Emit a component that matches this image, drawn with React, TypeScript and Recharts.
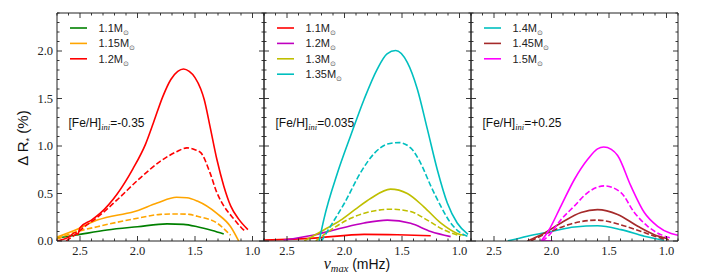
import React from 'react';
import { LineChart, Line, XAxis, YAxis } from 'recharts';

type Pt = { x: number; y: number };

// ---------- ticks ----------
const xMajorTicks = [1.0, 1.5, 2.0, 2.5];
const xAllTicks = [0.9, 1.0, 1.1, 1.2, 1.3, 1.4, 1.5, 1.6, 1.7, 1.8, 1.9, 2.0, 2.1, 2.2, 2.3, 2.4, 2.5, 2.6, 2.7];
const yMajorTicks = [0.0, 0.5, 1.0, 1.5, 2.0];
const yAllTicks = [0.0, 0.1, 0.2, 0.3, 0.4, 0.5, 0.6, 0.7, 0.8, 0.9, 1.0, 1.1, 1.2, 1.3, 1.4, 1.5, 1.6, 1.7, 1.8, 1.9, 2.0, 2.1, 2.2, 2.3, 2.4];
const xDomain = [0.9, 2.7];
const yDomain = [0, 2.4];

// ---------- panel 1 : [Fe/H]ini = -0.35 ----------
const p1_m110: Pt[] = [
  { x: 2.7, y: 0.03 }, { x: 2.53, y: 0.063 }, { x: 2.265, y: 0.116 }, { x: 2.0, y: 0.15 },
  { x: 1.743, y: 0.18 }, { x: 1.6, y: 0.175 }, { x: 1.48, y: 0.15 }, { x: 1.35, y: 0.11 }, { x: 1.25, y: 0.074 },
];
const p1_m115: Pt[] = [
  { x: 2.7, y: 0.04 }, { x: 2.55, y: 0.11 }, { x: 2.35, y: 0.22 }, { x: 2.1, y: 0.29 }, { x: 2.04, y: 0.305 },
  { x: 1.83, y: 0.4 }, { x: 1.66, y: 0.46 }, { x: 1.57, y: 0.455 }, { x: 1.48, y: 0.42 }, { x: 1.31, y: 0.29 },
  { x: 1.19, y: 0.15 }, { x: 1.12, y: 0.0 },
];
const p1_m115d: Pt[] = [
  { x: 2.7, y: 0.02 }, { x: 2.55, y: 0.09 }, { x: 2.35, y: 0.15 }, { x: 2.0, y: 0.24 }, { x: 1.8, y: 0.28 },
  { x: 1.657, y: 0.285 }, { x: 1.55, y: 0.28 }, { x: 1.48, y: 0.26 }, { x: 1.31, y: 0.19 }, { x: 1.207, y: 0.08 }, { x: 1.19, y: 0.06 },
];
const p1_m120: Pt[] = [
  { x: 2.7, y: 0.0 }, { x: 2.6, y: 0.04 }, { x: 2.54, y: 0.09 }, { x: 2.52, y: 0.07 }, { x: 2.5, y: 0.14 },
  { x: 2.4, y: 0.22 }, { x: 2.326, y: 0.29 }, { x: 2.18, y: 0.49 }, { x: 2.04, y: 0.76 }, { x: 1.93, y: 1.02 },
  { x: 1.86, y: 1.25 }, { x: 1.78, y: 1.52 }, { x: 1.71, y: 1.7 }, { x: 1.65, y: 1.785 }, { x: 1.6, y: 1.81 },
  { x: 1.55, y: 1.785 }, { x: 1.5, y: 1.72 }, { x: 1.45, y: 1.6 }, { x: 1.42, y: 1.49 }, { x: 1.37, y: 1.21 },
  { x: 1.31, y: 0.86 }, { x: 1.25, y: 0.58 }, { x: 1.19, y: 0.37 }, { x: 1.12, y: 0.23 }, { x: 1.04, y: 0.12 },
];
const p1_m120d: Pt[] = [
  { x: 2.62, y: 0.0 }, { x: 2.55, y: 0.06 }, { x: 2.44, y: 0.17 }, { x: 2.38, y: 0.22 }, { x: 2.18, y: 0.43 },
  { x: 1.98, y: 0.66 }, { x: 1.8, y: 0.84 }, { x: 1.66, y: 0.94 }, { x: 1.57, y: 0.98 }, { x: 1.5, y: 0.96 },
  { x: 1.45, y: 0.93 }, { x: 1.37, y: 0.72 }, { x: 1.31, y: 0.51 }, { x: 1.25, y: 0.37 }, { x: 1.16, y: 0.23 },
  { x: 1.08, y: 0.12 }, { x: 1.06, y: 0.1 },
];

// ---------- panel 2 : [Fe/H]ini = 0.035 ----------
const p2_m110: Pt[] = [
  { x: 2.7, y: 0.01 }, { x: 2.265, y: 0.03 }, { x: 1.83, y: 0.07 }, { x: 1.54, y: 0.066 }, { x: 1.25, y: 0.056 },
];
const p2_m120: Pt[] = [
  { x: 2.53, y: 0.01 }, { x: 2.265, y: 0.063 }, { x: 2.033, y: 0.134 }, { x: 1.83, y: 0.19 }, { x: 1.627, y: 0.22 },
  { x: 1.425, y: 0.186 }, { x: 1.25, y: 0.1 }, { x: 1.077, y: 0.046 },
];
const p2_m130: Pt[] = [
  { x: 2.35, y: 0.0 }, { x: 2.18, y: 0.116 }, { x: 2.033, y: 0.22 }, { x: 1.91, y: 0.33 }, { x: 1.77, y: 0.45 },
  { x: 1.6, y: 0.546 }, { x: 1.454, y: 0.5 }, { x: 1.31, y: 0.36 }, { x: 1.164, y: 0.19 }, { x: 1.02, y: 0.08 }, { x: 0.96, y: 0.06 },
];
const p2_m130d: Pt[] = [
  { x: 2.25, y: 0.0 }, { x: 2.12, y: 0.116 }, { x: 1.946, y: 0.24 }, { x: 1.77, y: 0.31 }, { x: 1.6, y: 0.335 },
  { x: 1.425, y: 0.31 }, { x: 1.28, y: 0.22 }, { x: 1.135, y: 0.116 }, { x: 0.99, y: 0.053 },
];
const p2_m135: Pt[] = [
  { x: 2.22, y: 0.0 }, { x: 2.18, y: 0.225 }, { x: 2.06, y: 0.72 }, { x: 1.946, y: 1.11 }, { x: 1.83, y: 1.49 },
  { x: 1.715, y: 1.81 }, { x: 1.63, y: 1.97 }, { x: 1.555, y: 2.005 }, { x: 1.454, y: 1.88 }, { x: 1.367, y: 1.6 },
  { x: 1.28, y: 1.18 }, { x: 1.193, y: 0.75 }, { x: 1.106, y: 0.4 }, { x: 1.02, y: 0.19 }, { x: 0.926, y: 0.07 },
];
const p2_m135d: Pt[] = [
  { x: 2.2, y: 0.0 }, { x: 2.15, y: 0.1 }, { x: 2.0, y: 0.4 }, { x: 1.86, y: 0.72 }, { x: 1.743, y: 0.92 },
  { x: 1.627, y: 1.02 }, { x: 1.526, y: 1.036 }, { x: 1.425, y: 0.98 }, { x: 1.338, y: 0.82 }, { x: 1.25, y: 0.58 },
  { x: 1.164, y: 0.37 }, { x: 1.077, y: 0.19 }, { x: 0.99, y: 0.085 }, { x: 0.93, y: 0.05 },
];

// ---------- panel 3 : [Fe/H]ini = +0.25 ----------
const p3_m140: Pt[] = [
  { x: 2.38, y: 0.0 }, { x: 2.21, y: 0.05 }, { x: 2.0, y: 0.1 }, { x: 1.8, y: 0.148 }, { x: 1.6, y: 0.16 },
  { x: 1.396, y: 0.12 }, { x: 1.193, y: 0.05 }, { x: 1.02, y: 0.007 },
];
const p3_m145: Pt[] = [
  { x: 2.21, y: 0.0 }, { x: 2.06, y: 0.085 }, { x: 1.917, y: 0.19 }, { x: 1.743, y: 0.3 }, { x: 1.6, y: 0.33 },
  { x: 1.425, y: 0.28 }, { x: 1.25, y: 0.155 }, { x: 1.106, y: 0.067 }, { x: 0.99, y: 0.025 },
];
const p3_m145d: Pt[] = [
  { x: 2.18, y: 0.0 }, { x: 2.033, y: 0.085 }, { x: 1.83, y: 0.18 }, { x: 1.6, y: 0.22 }, { x: 1.396, y: 0.17 },
  { x: 1.22, y: 0.1 }, { x: 1.05, y: 0.03 }, { x: 0.98, y: 0.01 },
];
const p3_m150hook: Pt[] = [{ x: 2.09, y: 0.0 }, { x: 1.99, y: 0.0 }];
const p3_m150: Pt[] = [
  { x: 2.09, y: 0.0 }, { x: 2.03, y: 0.1 }, { x: 1.917, y: 0.37 }, { x: 1.8, y: 0.65 }, { x: 1.685, y: 0.86 },
  { x: 1.6, y: 0.97 }, { x: 1.546, y: 0.99 }, { x: 1.48, y: 0.965 }, { x: 1.425, y: 0.9 }, { x: 1.31, y: 0.58 },
  { x: 1.193, y: 0.3 }, { x: 1.077, y: 0.155 }, { x: 0.96, y: 0.078 }, { x: 0.9, y: 0.06 },
];
const p3_m150d: Pt[] = [
  { x: 2.08, y: 0.0 }, { x: 2.03, y: 0.05 }, { x: 1.917, y: 0.225 }, { x: 1.8, y: 0.37 }, { x: 1.685, y: 0.51 },
  { x: 1.54, y: 0.58 }, { x: 1.396, y: 0.51 }, { x: 1.28, y: 0.3 }, { x: 1.164, y: 0.155 }, { x: 1.05, y: 0.067 }, { x: 0.96, y: 0.03 },
];

// ---------- styling / series descriptors ----------
type Series = { data: Pt[]; color: string; dashed?: boolean };
type LegendItem = { label: string; color: string };

const C_GREEN = '#008000';
const C_ORANGE = '#FFA500';
const C_RED = '#FF0000';
const C_PURPLE = '#BF00BF';
const C_OLIVE = '#BFBF00';
const C_CYAN = '#00BFBF';
const C_BROWN = '#A52A2A';
const C_MAGENTA = '#FF00FF';

const panel1Series: Series[] = [
  { data: p1_m110, color: C_GREEN },
  { data: p1_m115d, color: C_ORANGE, dashed: true },
  { data: p1_m115, color: C_ORANGE },
  { data: p1_m120d, color: C_RED, dashed: true },
  { data: p1_m120, color: C_RED },
];
const panel2Series: Series[] = [
  { data: p2_m110, color: C_RED },
  { data: p2_m120, color: C_PURPLE },
  { data: p2_m130d, color: C_OLIVE, dashed: true },
  { data: p2_m130, color: C_OLIVE },
  { data: p2_m135d, color: C_CYAN, dashed: true },
  { data: p2_m135, color: C_CYAN },
];
const panel3Series: Series[] = [
  { data: p3_m140, color: C_CYAN },
  { data: p3_m145d, color: C_BROWN, dashed: true },
  { data: p3_m145, color: C_BROWN },
  { data: p3_m150d, color: C_MAGENTA, dashed: true },
  { data: p3_m150hook, color: C_MAGENTA },
  { data: p3_m150, color: C_MAGENTA },
];

const panel1Legend: LegendItem[] = [
  { label: '1.1M', color: C_GREEN },
  { label: '1.15M', color: C_ORANGE },
  { label: '1.2M', color: C_RED },
];
const panel2Legend: LegendItem[] = [
  { label: '1.1M', color: C_RED },
  { label: '1.2M', color: C_PURPLE },
  { label: '1.3M', color: C_OLIVE },
  { label: '1.35M', color: C_CYAN },
];
const panel3Legend: LegendItem[] = [
  { label: '1.4M', color: C_CYAN },
  { label: '1.45M', color: C_BROWN },
  { label: '1.5M', color: C_MAGENTA },
];

const PLOT_W = 207;
const PLOT_TOP = 13;
const PLOT_BOTTOM = 241;
const FIG_H = 275;
const PAD = 40;
const AXIS_COLOR = '#222';
const SANS = '"Liberation Sans", Arial, sans-serif';
const SERIF = '"Liberation Serif", "DejaVu Serif", serif';
const MAJOR_LEN = 5;
const MINOR_LEN = 2.5;

const isMajor = (v: number) => Math.abs(v * 2 - Math.round(v * 2)) < 1e-6;

function makeTick(side: 'bottom' | 'top' | 'left' | 'right', showLabels: boolean) {
  return (p: any) => {
    const { x, y, payload } = p;
    const v: number = payload?.value;
    const major = isMajor(v);
    const len = major ? MAJOR_LEN : MINOR_LEN;
    let x2 = x, y2 = y;
    if (side === 'bottom') y2 = y - len;
    else if (side === 'top') y2 = y + len;
    else if (side === 'left') x2 = x + len;
    else x2 = x - len;
    let label: React.ReactNode = null;
    if (showLabels && major) {
      if (side === 'bottom') {
        label = (
          <text x={x} y={y + 5} dy="0.72em" textAnchor="middle" fontFamily={SERIF} fontSize={12.5} fill="#222">
            {v.toFixed(1)}
          </text>
        );
      } else if (side === 'left') {
        label = (
          <text x={x - 4} y={y} dy="0.35em" textAnchor="end" fontFamily={SERIF} fontSize={12.5} fill="#222">
            {v.toFixed(1)}
          </text>
        );
      }
    }
    return (
      <g>
        <line x1={x} y1={y} x2={x2} y2={y2} stroke={AXIS_COLOR} strokeWidth={0.9} />
        {label}
      </g>
    );
  };
}

function Panel(props: {
  left: number;
  series: Series[];
  legend: LegendItem[];
  feh: string;
  showYLabels: boolean;
}) {
  const { left, series, legend, feh, showYLabels } = props;
  const W = PLOT_W + 2 * PAD;
  return (
    <div style={{ position: 'absolute', left: left - PAD, top: 0, width: W, height: FIG_H }}>
      <LineChart
        width={W}
        height={FIG_H}
        margin={{ top: PLOT_TOP - 1, right: PAD - 1, bottom: FIG_H - PLOT_BOTTOM - 1, left: PAD - 1 }}
      >
        <XAxis xAxisId="b" orientation="bottom" type="number" dataKey="x" domain={xDomain} reversed allowDataOverflow
          ticks={xAllTicks} interval={0} height={1} tickSize={0} tickMargin={0} tickLine={false}
          tick={makeTick('bottom', true)} axisLine={{ stroke: AXIS_COLOR }} />
        <XAxis xAxisId="t" orientation="top" type="number" dataKey="x" domain={xDomain} reversed allowDataOverflow
          ticks={xAllTicks} interval={0} height={1} tickSize={0} tickMargin={0} tickLine={false}
          tick={makeTick('top', false)} axisLine={{ stroke: AXIS_COLOR }} />
        <YAxis yAxisId="l" orientation="left" type="number" domain={yDomain} allowDataOverflow
          ticks={yAllTicks} interval={0} width={1} tickSize={0} tickMargin={0} tickLine={false}
          tick={makeTick('left', showYLabels)} axisLine={{ stroke: AXIS_COLOR }} />
        <YAxis yAxisId="r" orientation="right" type="number" domain={yDomain} allowDataOverflow
          ticks={yAllTicks} interval={0} width={1} tickSize={0} tickMargin={0} tickLine={false}
          tick={makeTick('right', false)} axisLine={{ stroke: AXIS_COLOR }} />
        {series.map((s, i) => (
          <Line key={i} xAxisId="b" yAxisId="l" data={s.data} dataKey="y" type="monotone"
            stroke={s.color} strokeWidth={1.6} strokeDasharray={s.dashed ? '5.5 2.4' : undefined}
            dot={false} activeDot={false} isAnimationActive={false} />
        ))}
      </LineChart>
      <svg width={W} height={FIG_H} style={{ position: 'absolute', left: 0, top: 0, pointerEvents: 'none' }}>
        {legend.map((it, i) => {
          const cy = 28 + i * 15.4;
          return (
            <g key={i}>
              <line x1={PAD + 13} x2={PAD + 30} y1={cy} y2={cy} stroke={it.color} strokeWidth={1.6} />
              <text x={PAD + 41.5} y={cy + 4} fontFamily={SANS} fontSize={11} fill="#222">
                {it.label}
                <tspan dy={3} fontSize={7} fontFamily='"DejaVu Sans", sans-serif' fill="#555">⊙</tspan>
              </text>
            </g>
          );
        })}
        <text x={PAD + 11.5} y={127} fontFamily={SANS} fontSize={12} fill="#111">
          [Fe/H]
          <tspan dy={3} fontFamily={SERIF} fontStyle="italic" fontSize={8.5}>ini</tspan>
          <tspan dy={-3}>{feh}</tspan>
        </text>
      </svg>
    </div>
  );
}

export default function App() {
  return (
    <div style={{ position: 'absolute', left: 0, top: 0, width: 715, height: FIG_H, background: '#fff', overflow: 'hidden' }}>
      <Panel left={57} series={panel1Series} legend={panel1Legend} feh="=-0.35" showYLabels />
      <Panel left={264} series={panel2Series} legend={panel2Legend} feh="=0.035" showYLabels={false} />
      <Panel left={471} series={panel3Series} legend={panel3Legend} feh="=+0.25" showYLabels={false} />
      <svg width={715} height={FIG_H} style={{ position: 'absolute', left: 0, top: 0, pointerEvents: 'none' }}>
        <text transform="translate(28,138) rotate(-90)" textAnchor="middle" fontFamily={SANS} fontSize={15} fill="#111">
          Δ R<tspan dy={4} fontSize={9.5}>*</tspan><tspan dy={-4}> (%)</tspan>
        </text>
        <text x={357} y={269} textAnchor="middle" fill="#111">
          <tspan fontFamily={SERIF} fontStyle="italic" fontSize={16}>ν</tspan>
          <tspan dy={3} fontFamily={SERIF} fontStyle="italic" fontSize={10.5}>max</tspan>
          <tspan dy={-3} fontFamily={SANS} fontSize={14}> (mHz)</tspan>
        </text>
      </svg>
    </div>
  );
}
